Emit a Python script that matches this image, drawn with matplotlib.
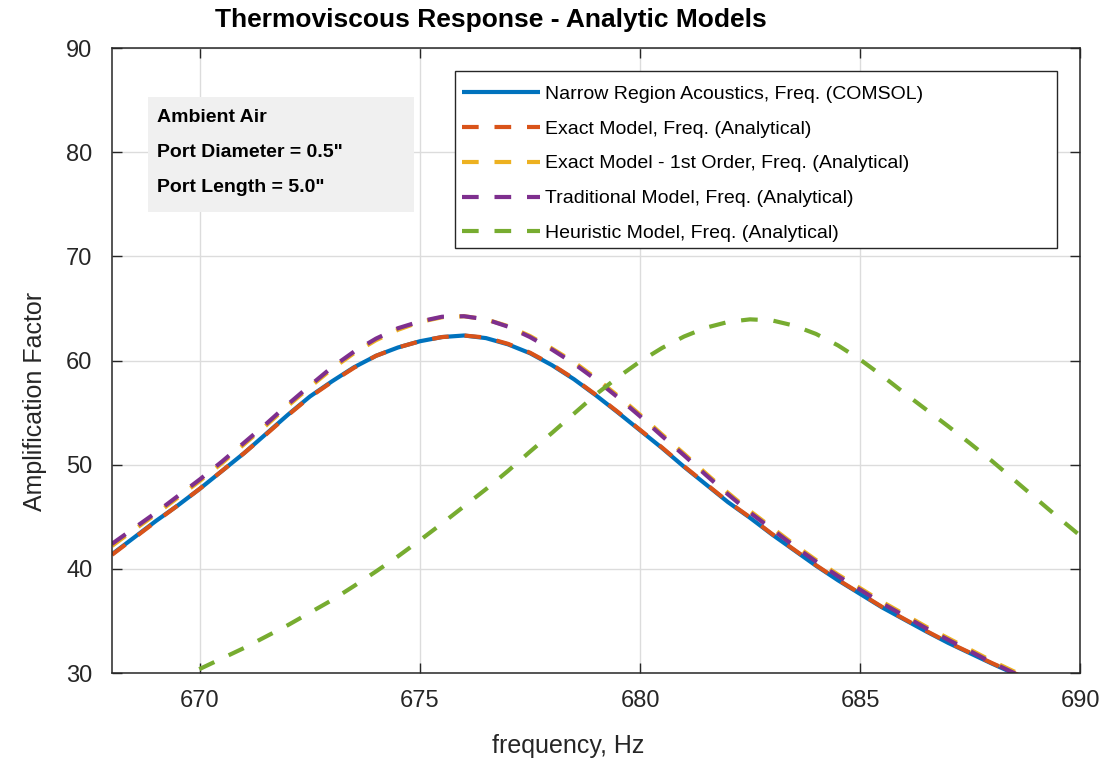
import matplotlib
matplotlib.use("Agg")
import matplotlib.pyplot as plt
from matplotlib.patches import Rectangle

plt.rcParams['font.family'] = ['Liberation Sans', 'DejaVu Sans']

# ---------------- data ----------------
freq = [668.0, 668.5, 669.0, 669.5, 670.0, 670.5, 671.0, 671.5, 672.0, 672.5,
        673.0, 673.5, 674.0, 674.5, 675.0, 675.5, 676.0, 676.5, 677.0, 677.5,
        678.0, 678.5, 679.0, 679.5, 680.0, 680.5, 681.0, 681.5, 682.0, 682.5,
        683.0, 683.5, 684.0, 684.5, 685.0, 685.5, 686.0, 686.5, 687.0, 687.5,
        688.0, 688.5, 689.0, 689.5, 690.0]

comsol = [41.4, 43.0, 44.6, 46.1, 47.7, 49.4, 51.1, 52.95, 54.8, 56.55,
          58.0, 59.35, 60.45, 61.25, 61.85, 62.25, 62.4, 62.15, 61.55, 60.7,
          59.55, 58.2, 56.65, 55.0, 53.3, 51.6, 49.8, 48.1, 46.4, 44.9,
          43.3, 41.8, 40.3, 38.9, 37.6, 36.3, 35.15, 34.0, 32.9, 31.9,
          30.9, 29.95, 29.0, 28.1, 27.3]

exact = [41.35, 42.95, 44.55, 46.1, 47.7, 49.4, 51.1, 52.9, 54.75, 56.5,
         57.95, 59.3, 60.45, 61.25, 61.85, 62.25, 62.4, 62.2, 61.6, 60.75,
         59.6, 58.25, 56.7, 55.05, 53.35, 51.65, 49.85, 48.15, 46.45, 44.95,
         43.35, 41.85, 40.35, 38.95, 37.65, 36.35, 35.2, 34.05, 32.95, 31.95,
         30.95, 30.0, 29.05, 28.15, 27.35]

exact_1st = [42.2, 43.75, 45.25, 46.85, 48.45, 50.15, 51.95, 53.75, 55.65, 57.45,
             59.2, 60.7, 61.95, 62.95, 63.7, 64.15, 64.25, 63.95, 63.3, 62.35,
             61.15, 59.85, 58.3, 56.6, 54.8, 52.9, 51.05, 49.15, 47.3, 45.55,
             43.95, 42.35, 40.85, 39.45, 38.15, 36.85, 35.65, 34.45, 33.35, 32.25,
             31.15, 30.15, 29.25, 28.35, 27.55]

traditional = [42.4, 43.9, 45.4, 47.0, 48.6, 50.3, 52.1, 53.9, 55.8, 57.6,
               59.35, 60.85, 62.1, 63.1, 63.75, 64.2, 64.25, 63.95, 63.25, 62.25,
               61.05, 59.7, 58.15, 56.45, 54.65, 52.75, 50.9, 49.0, 47.15, 45.4,
               43.8, 42.2, 40.7, 39.3, 38.0, 36.7, 35.5, 34.3, 33.2, 32.1,
               31.0, 30.0, 29.1, 28.2, 27.4]

heuristic = [26.2, 27.2, 28.2, 29.3, 30.4, 31.4, 32.4, 33.5, 34.6, 35.8,
             37.0, 38.35, 39.75, 41.2, 42.75, 44.35, 46.0, 47.65, 49.4, 51.25,
             53.05, 54.9, 56.75, 58.4, 59.9, 61.2, 62.3, 63.15, 63.7, 63.95,
             63.85, 63.35, 62.55, 61.45, 60.1, 58.55, 56.9, 55.3, 53.7, 52.05,
             50.35, 48.55, 46.75, 44.95, 43.2]

labels = ["Narrow Region Acoustics, Freq. (COMSOL)",
          "Exact Model, Freq. (Analytical)",
          "Exact Model - 1st Order, Freq. (Analytical)",
          "Traditional Model, Freq. (Analytical)",
          "Heuristic Model, Freq. (Analytical)"]
colors = ["#0072BD", "#D95319", "#EDB120", "#7E2F8E", "#77AC30"]

x_ticks = [670, 675, 680, 685, 690]
y_ticks = [30, 40, 50, 60, 70, 80, 90]
info_lines = ["Ambient Air", 'Port Diameter = 0.5"', 'Port Length = 5.0"']

# ---------------- figure ----------------
fig = plt.figure(figsize=(11.14, 7.61), dpi=100)
ax = fig.add_axes([112 / 1114, 1 - 673 / 761, 968 / 1114, 625 / 761])

lw = 3.0
dash = (4.0, 3.8)
series = [comsol, exact, exact_1st, traditional, heuristic]
for i, (ys, lab, col) in enumerate(zip(series, labels, colors)):
    line, = ax.plot(freq, ys, color=col, lw=lw, label=lab, zorder=3 + i,
                    solid_capstyle='butt', dash_capstyle='butt',
                    solid_joinstyle='round', dash_joinstyle='round')
    if i > 0:
        line.set_dashes(dash)

ax.set_xlim(668, 690)
ax.set_ylim(30, 90)
ax.set_xticks(x_ticks)
ax.set_yticks(y_ticks)
ax.grid(True, color='#dcdcdc', lw=1.0, zorder=0)
ax.set_axisbelow(True)
for s in ax.spines.values():
    s.set_color('#262626')
    s.set_linewidth(1.1)
    s.set_zorder(20)
ax.tick_params(axis='both', which='both', direction='in', length=7.2, width=1.0,
               colors='#262626', labelsize=17, top=True, right=True)
ax.tick_params(axis='x', pad=12)
ax.tick_params(axis='y', pad=14)

# info box
ax.add_patch(Rectangle(((148 - 112) / 968, 1 - (212 - 48) / 625),
                       (414 - 148) / 968, (212 - 97) / 625,
                       transform=ax.transAxes, facecolor='#f0f0f0',
                       edgecolor='none', zorder=10))
for txt, yb in zip(info_lines, [122, 156.5, 192]):
    ax.text((157 - 112) / 968, 1 - (yb - 48) / 625, txt, transform=ax.transAxes,
            fontsize=14, fontweight='bold', va='baseline', ha='left',
            color='black', zorder=11)

# legend frame (drawn separately so its size matches the reference)
ax.add_patch(Rectangle(((455 - 112) / 968, 1 - (248 - 48) / 625),
                       (1057 - 455) / 968, (248 - 71) / 625,
                       transform=ax.transAxes, facecolor='white',
                       edgecolor='#262626', lw=1.0, zorder=25))
leg = ax.legend(loc='upper left',
                bbox_to_anchor=((462 - 112) / 968, 1 - (85 - 48) / 625),
                borderaxespad=0, fontsize=14, handlelength=4.0,
                handletextpad=0.28, borderpad=0.0, labelspacing=0.89,
                frameon=False)
leg.set_zorder(30)

# title and labels
fig.text(215 / 1114, 1 - 27 / 761, "Thermoviscous Response - Analytic Models",
         fontsize=19, fontweight='bold', ha='left', va='baseline', color='black')
fig.text(568 / 1114, 1 - 746 / 761, "frequency, Hz", fontsize=18,
         ha='center', va='center', color='#262626')
fig.text(35 / 1114, 1 - 401 / 761, "Amplification Factor", fontsize=18,
         rotation=90, ha='center', va='center', color='#262626')

fig.savefig("out.png", dpi=100)
